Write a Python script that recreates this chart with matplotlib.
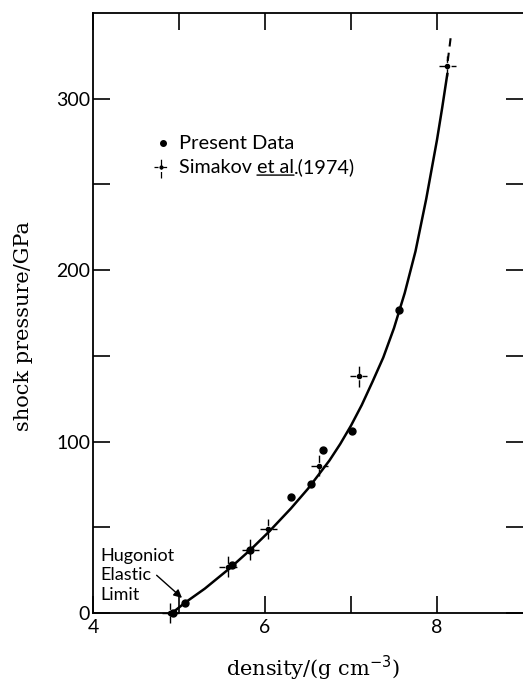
import numpy as np
import matplotlib.pyplot as plt

# Present data (filled dots)
present_rho = [4.93, 5.07, 5.62, 5.83, 6.30, 6.53, 6.68, 7.01, 7.56]
present_p = [0, 6, 28, 37, 67.5, 75, 95, 106, 177]

# Simakov et al. (1974) (crosses)
simakov_rho = [4.90, 5.57, 5.83, 6.04, 6.63, 7.09, 8.12]
simakov_p = [0, 27, 37, 49, 86, 138, 319]
simakov_drho = 0.1
simakov_dp = 6

# Hugoniot curve
curve_rho = [4.92, 5.07, 5.3, 5.6, 5.84, 6.05, 6.3, 6.5, 6.75, 6.875, 7.0, 7.125,
             7.25, 7.375, 7.5, 7.625, 7.75, 7.875, 8.0, 8.06, 8.12]
curve_p = [0, 6, 14.2, 26.5, 37.3, 47.6, 60.9, 72.5, 89, 98.6, 109.3, 121.3,
           134.9, 149, 166.2, 186.7, 211, 241.6, 276, 294.6, 314.4]
ext_rho = [8.125, 8.16]
ext_p = [322, 336]

xticks = [4, 5, 6, 7, 8]
xticklabels = ['4', '', '6', '', '8']
yticks = [0, 50, 100, 150, 200, 250, 300]
yticklabels = ['0', '', '100', '', '200', '', '300']

fig = plt.figure(figsize=(5.23, 6.83), dpi=100)
ax = fig.add_axes([0.1778, 0.1025, 0.8222, 0.8785])

# curve
ax.plot(curve_rho, curve_p, color='black', lw=1.8, zorder=2)
ax.plot(ext_rho, ext_p, color='black', lw=1.5, ls=(0, (4, 3)))

# Simakov crosses
eb = ax.errorbar(simakov_rho, simakov_p, xerr=simakov_drho, yerr=simakov_dp,
                 fmt='o', ms=3, color='black', elinewidth=1.0, capsize=0, zorder=3)
eb[-1][0].set_linestyle((0, (4.2, 2, 0.5, 2, 4.2, 20)))
eb[-1][1].set_linestyle((0, (5.2, 2, 0.6, 2, 5.2, 20)))
eb[0].set_clip_on(False)
for c in eb[-1]:
    c.set_clip_on(False)

# present data
ax.plot(present_rho, present_p, 'o', color='black', ms=5, zorder=4, clip_on=False)

ax.set_xticks(xticks)
ax.set_xticklabels(xticklabels)
ax.set_yticks(yticks)
ax.set_yticklabels(yticklabels)
ax.set_xlim(4, 9.0)
ax.set_ylim(0, 350)
ax.spines['right'].set_visible(False)
for s in ['left', 'top', 'bottom']:
    ax.spines[s].set_linewidth(1.3)
ax.tick_params(direction='in', length=12, width=1.2, top=True, right=True,
               labelsize=14, pad=4)
ax.tick_params(axis='y', pad=2)
for lab in ax.get_xticklabels() + ax.get_yticklabels():
    lab.set_family('Lato')

ax.set_xlabel('density/(g cm$^{-3}$)', family='DejaVu Serif', fontsize=15)
ax.xaxis.set_label_coords(0.512, -0.068)
ax.set_ylabel('shock pressure/GPa', family='DejaVu Serif', fontsize=15)
ax.yaxis.set_label_coords(-0.14, 0.478)

# legend drawn by hand
ax.plot([4.81], [274], 'o', color='black', ms=4)
ax.text(5.0, 274, 'Present Data', family='Lato', fontsize=14.5, va='center')
leg = ax.errorbar([4.79], [260], xerr=0.08, yerr=6, fmt='o', ms=2, color='black',
                  elinewidth=0.9, capsize=0)
leg[-1][0].set_linestyle((0, (3.2, 1.6, 0.5, 1.6, 3.2, 20)))
leg[-1][1].set_linestyle((0, (5.2, 2, 0.6, 2, 5.2, 20)))
t1 = ax.text(5.0, 260, 'Simakov ', family='Lato', fontsize=14.2, va='center')
t2 = ax.annotate('et al', xy=(1, 0), xycoords=t1, va='bottom', family='Lato', fontsize=14.2)
t3 = ax.annotate('.(1974)', xy=(1, 0), xycoords=t2, va='bottom', family='Lato', fontsize=14.2)
ax.annotate('', xy=(1, 0.04), xycoords=t2, xytext=(0, 0.04), textcoords=t2,
            arrowprops=dict(arrowstyle='-', lw=1.0, color='black', shrinkA=0, shrinkB=0))

# Hugoniot elastic limit annotation
ax.text(4.09, 22, 'Hugoniot\nElastic\nLimit', family='Lato', fontsize=13,
        va='center', ha='left', linespacing=1.25)
ax.annotate('', xy=(5.035, 8.8), xytext=(4.74, 22),
            arrowprops=dict(arrowstyle='-|>', lw=1.0, color='black',
                            mutation_scale=12, shrinkA=0, shrinkB=0))

plt.savefig('out.png', dpi=100)
